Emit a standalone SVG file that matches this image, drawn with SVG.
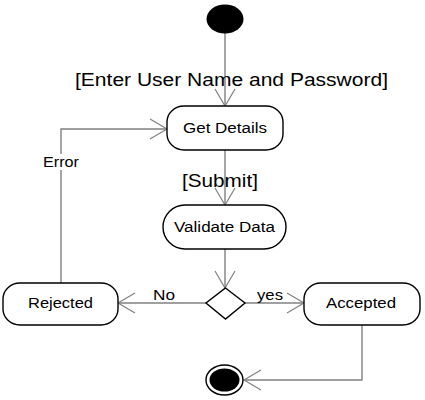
<svg xmlns="http://www.w3.org/2000/svg" width="425" height="400" viewBox="0 0 425 400">
<style>
.node{fill:#fff;stroke:#000;stroke-width:1.4}
.conn{fill:none;stroke:#808080;stroke-width:1.4}
.t{font-family:"Liberation Sans",Arial,sans-serif;font-size:14px;fill:#000}
.g{font-family:"Liberation Sans",Arial,sans-serif;font-size:17.5px;fill:#000}
</style>
<defs>
<marker id="arr" markerUnits="userSpaceOnUse" markerWidth="24" markerHeight="24" viewBox="-20 -12 22 24" refX="0" refY="0" orient="auto">
<path d="M-17,-10 L0,0 L-17,10" fill="none" stroke="#808080" stroke-width="1.2"/>
</marker>
</defs>
<rect width="425" height="400" fill="#fff"/>
<g id="connectors">
<path class="conn" d="M225,33 L225,106" marker-end="url(#arr)"/>
<path class="conn" d="M225,150 L225,205" marker-end="url(#arr)"/>
<path class="conn" d="M225,249 L225,288" marker-end="url(#arr)"/>
<path class="conn" d="M206,303 L118,303" marker-end="url(#arr)"/>
<path class="conn" d="M245,303 L304,303" marker-end="url(#arr)"/>
<path class="conn" d="M61,283 L61,129 L167,129" marker-end="url(#arr)"/>
<path class="conn" d="M362,325 L362,380 L244,380" marker-end="url(#arr)"/>
</g>
<g id="labels">
<text class="g" x="75" y="86" textLength="313" lengthAdjust="spacingAndGlyphs">[Enter User Name and Password]</text>
<text class="g" x="182" y="187" textLength="76" lengthAdjust="spacingAndGlyphs">[Submit]</text>
<text class="t" x="153" y="300" textLength="22" lengthAdjust="spacingAndGlyphs">No</text>
<text class="t" x="257" y="300" textLength="26" lengthAdjust="spacingAndGlyphs">yes</text>
<rect x="42" y="154" width="38" height="16" fill="#fff"/>
<text class="t" x="43" y="167" textLength="36" lengthAdjust="spacingAndGlyphs">Error</text>
</g>
<g id="start"><ellipse cx="225" cy="19" rx="18.5" ry="14.5" fill="#000"/></g>
<g id="get-details">
<rect class="node" x="167" y="106" width="116" height="44" rx="17" ry="16"/>
<text class="t" x="183" y="133" textLength="84" lengthAdjust="spacingAndGlyphs">Get Details</text>
</g>
<g id="validate-data">
<rect class="node" x="163" y="205" width="123" height="44" rx="22" ry="22"/>
<text class="t" x="174" y="232" textLength="101" lengthAdjust="spacingAndGlyphs">Validate Data</text>
</g>
<g id="decision">
<polygon class="node" points="225.5,288 245,303 225.5,319 206,303"/>
</g>
<g id="rejected">
<rect class="node" x="3" y="283" width="115" height="42" rx="17" ry="16"/>
<text class="t" x="28" y="308" textLength="65" lengthAdjust="spacingAndGlyphs">Rejected</text>
</g>
<g id="accepted">
<rect class="node" x="304" y="283" width="116" height="42" rx="17" ry="16"/>
<text class="t" x="326" y="308" textLength="70" lengthAdjust="spacingAndGlyphs">Accepted</text>
</g>
<g id="end">
<ellipse cx="224.5" cy="380" rx="18.5" ry="15" fill="#fff" stroke="#000" stroke-width="1.4"/>
<ellipse cx="224.5" cy="380" rx="15" ry="11.5" fill="#000"/>
</g>
</svg>
